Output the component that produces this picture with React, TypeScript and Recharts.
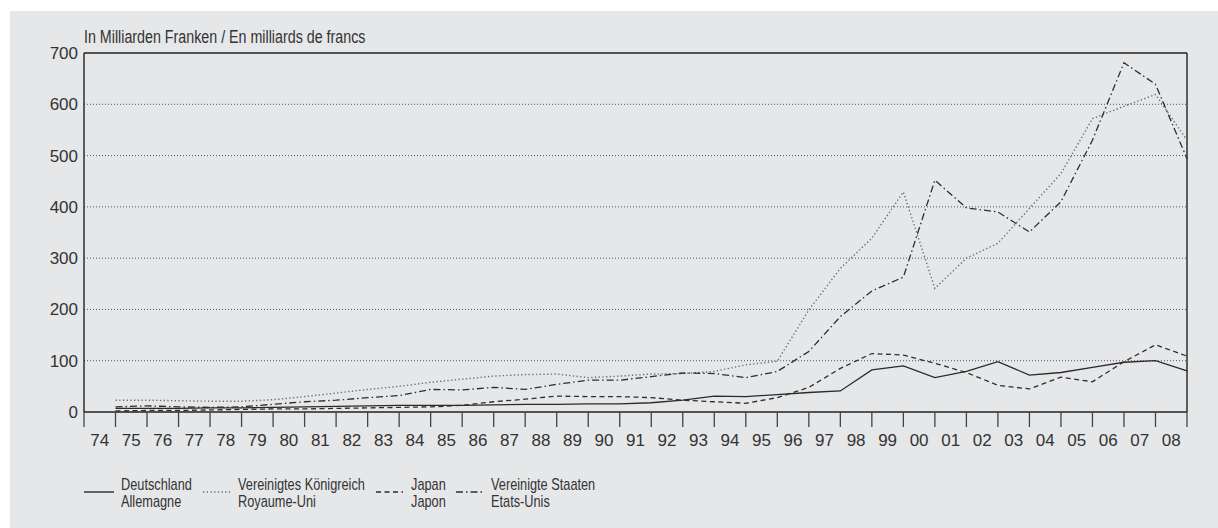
import { CartesianGrid, Line, LineChart, ReferenceLine, XAxis, YAxis } from 'recharts';

const years = [
  '74', '75', '76', '77', '78', '79', '80', '81', '82', '83', '84', '85',
  '86', '87', '88', '89', '90', '91', '92', '93', '94', '95', '96', '97',
  '98', '99', '00', '01', '02', '03', '04', '05', '06', '07', '08',
];

// In Milliarden Franken, year-end values
const deutschland = [
  7, 7, 7, 8, 8, 9, 10, 11, 12, 13, 13, 13, 14, 15, 15, 16, 16, 18,
  23, 31, 30, 34, 38, 41, 82, 90, 67, 79, 98, 72, 77, 87, 97, 100, 80,
];
const royaumeUni = [
  23, 23, 22, 21, 21, 24, 30, 37, 44, 50, 58, 64, 70, 73, 74, 67, 70, 74,
  75, 79, 92, 99, 199, 280, 339, 429, 241, 300, 329, 397, 465, 572, 596, 619, 530,
];
const japan = [
  2, 3, 3, 4, 5, 6, 6, 7, 8, 9, 10, 13, 20, 25, 31, 30, 30, 28,
  23, 20, 17, 28, 48, 85, 114, 111, 95, 77, 52, 45, 68, 59, 98, 131, 109,
];
const etatsUnis = [
  10, 12, 10, 9, 10, 15, 20, 23, 28, 32, 44, 43, 48, 44, 54, 62, 62, 69,
  76, 75, 67, 79, 118, 186, 236, 263, 452, 398, 390, 351, 410, 530, 681, 639, 494,
];

const yTicks = [0, 100, 200, 300, 400, 500, 600, 700];
const gridValues = [100, 200, 300, 400, 500, 600];

const data = years.map((year, i) => ({
  year,
  pos: i + 1,
  de: deutschland[i],
  uk: royaumeUni[i],
  jp: japan[i],
  us: etatsUnis[i],
}));

const bandTicks = Array.from({ length: years.length + 1 }, (_, i) => i);
const labelTicks = years.map((_, i) => i + 0.5);

const series = [
  { key: 'de', de: 'Deutschland', fr: 'Allemagne', color: '#2a2a2a', dash: undefined, width: 1.3, left: 74, sample: 30, text: 111 },
  { key: 'uk', de: 'Vereinigtes Königreich', fr: 'Royaume-Uni', color: '#6a6a6a', dash: '1.3 2.4', width: 1.4, left: 193, sample: 27, text: 228 },
  { key: 'jp', de: 'Japan', fr: 'Japon', color: '#2e2e2e', dash: '5 3.5', width: 1.3, left: 366, sample: 27, text: 401 },
  { key: 'us', de: 'Vereinigte Staaten', fr: 'Etats-Unis', color: '#2e2e2e', dash: '7 3 1.5 3', width: 1.3, left: 446, sample: 29, text: 481 },
];

const sans = "'Liberation Sans', Arial, sans-serif";

function LegendRow() {
  return (
    <>
      {series.map((s) => (
        <div key={s.key}>
          <svg
            width={s.sample}
            height={4}
            style={{ position: 'absolute', left: s.left, top: 479 }}
          >
            <line x1={0} x2={s.sample} y1={2} y2={2} stroke={s.color} strokeWidth={1.4} strokeDasharray={s.dash} />
          </svg>
          <div
            style={{
              position: 'absolute',
              left: s.text,
              top: 466,
              fontFamily: sans,
              fontSize: 17,
              lineHeight: '16.6px',
              color: '#333',
              whiteSpace: 'nowrap',
              transform: 'scaleX(0.75)',
              transformOrigin: 'left top',
            }}
          >
            <div>{s.de}</div>
            <div>{s.fr}</div>
          </div>
        </div>
      ))}
    </>
  );
}

export default function App() {
  return (
    <div
      style={{
        position: 'absolute',
        left: 10,
        top: 11,
        width: 1208,
        height: 517,
        background: '#e6e7e9',
        overflow: 'hidden',
      }}
    >
      <div
        style={{
          position: 'absolute',
          left: 74,
          top: 16,
          fontFamily: sans,
          fontSize: 17.5,
          lineHeight: '20px',
          color: '#333',
          whiteSpace: 'nowrap',
          transform: 'scaleX(0.815)',
          transformOrigin: 'left top',
        }}
      >
        In Milliarden Franken / En milliards de francs
      </div>
      <LineChart
        width={1208}
        height={460}
        data={data}
        margin={{ top: 42, right: 31, left: 0, bottom: 19 }}
        style={{ position: 'absolute', left: 0, top: 0 }}
      >
        <CartesianGrid
          vertical={false}
          horizontalValues={gridValues}
          stroke="#555"
          strokeDasharray="1 2"
          strokeWidth={1}
        />
        <XAxis
          xAxisId="bands"
          dataKey="pos"
          type="number"
          domain={[0, years.length]}
          ticks={bandTicks}
          interval={0}
          tick={() => <g />}
          tickSize={15}
          height={1}
          axisLine={{ stroke: '#222', strokeWidth: 1.4 }}
          tickLine={{ stroke: '#444', strokeWidth: 1.3 }}
        />
        <XAxis
          xAxisId="labels"
          dataKey="pos"
          type="number"
          domain={[0, years.length]}
          ticks={labelTicks}
          interval={0}
          tickFormatter={(v: number) => years[Math.floor(v)]}
          tickSize={0}
          tickMargin={21}
          height={39}
          axisLine={false}
          tickLine={false}
          tick={{ fill: '#333', fontSize: 17, fontFamily: sans }}
        />
        <YAxis
          type="number"
          domain={[0, 700]}
          ticks={yTicks}
          interval={0}
          width={74}
          tickSize={0}
          tickMargin={6}
          tickLine={false}
          axisLine={{ stroke: '#222', strokeWidth: 1.4 }}
          tick={{ fill: '#333', fontSize: 17, fontFamily: sans }}
        />
        <ReferenceLine xAxisId="bands" y={700} stroke="#222" strokeWidth={1.4} ifOverflow="visible" />
        <ReferenceLine xAxisId="bands" x={years.length} stroke="#222" strokeWidth={1.4} ifOverflow="visible" />
        {series.map((s) => (
          <Line
            key={s.key}
            xAxisId="bands"
            dataKey={s.key}
            type="linear"
            stroke={s.color}
            strokeWidth={s.width}
            strokeDasharray={s.dash}
            dot={false}
            activeDot={false}
            isAnimationActive={false}
          />
        ))}
      </LineChart>
      <LegendRow />
    </div>
  );
}
